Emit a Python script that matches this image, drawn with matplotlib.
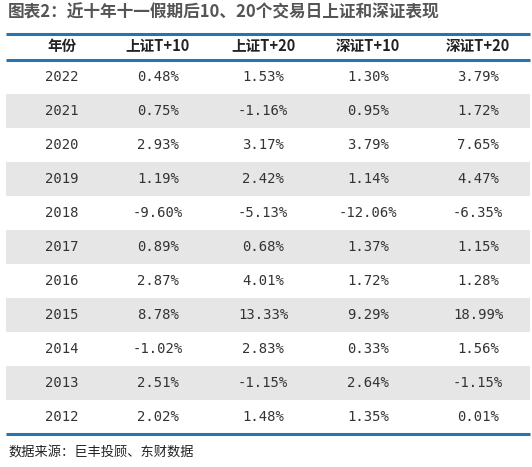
import matplotlib.pyplot as plt
from matplotlib.patches import Rectangle

plt.rcParams['font.family'] = ['Noto Sans CJK SC', 'DejaVu Sans']

title = "图表2：近十年十一假期后10、20个交易日上证和深证表现"
source = "数据来源：巨丰投顾、东财数据"
headers = ["年份", "上证T+10", "上证T+20", "深证T+10", "深证T+20"]
years = ["2022", "2021", "2020", "2019", "2018", "2017", "2016", "2015", "2014", "2013", "2012"]
sh_t10 = ["0.48%", "0.75%", "2.93%", "1.19%", "-9.60%", "0.89%", "2.87%", "8.78%", "-1.02%", "2.51%", "2.02%"]
sh_t20 = ["1.53%", "-1.16%", "3.17%", "2.42%", "-5.13%", "0.68%", "4.01%", "13.33%", "2.83%", "-1.15%", "1.48%"]
sz_t10 = ["1.30%", "0.95%", "3.79%", "1.14%", "-12.06%", "1.37%", "1.72%", "9.29%", "0.33%", "2.64%", "1.35%"]
sz_t20 = ["3.79%", "1.72%", "7.65%", "4.47%", "-6.35%", "1.15%", "1.28%", "18.99%", "1.56%", "-1.15%", "0.01%"]

W, H = 532, 467
fig = plt.figure(figsize=(W / 100, H / 100), dpi=100)
ax = fig.add_axes([0, 0, 1, 1])
ax.set_xlim(0, W)
ax.set_ylim(H, 0)
ax.axis("off")

left, right = 6, 530
col_x = [62, 158, 263, 368, 478]
head_top, head_bot = 34, 60
row_h = 34.0
blue = "#2673b0"

ax.text(8, 12, title, fontsize=12, fontweight="bold", color="#555555", va="center", ha="left")

for x, h in zip(col_x, headers):
    ax.text(x, 46, h, fontsize=10.5, fontweight="bold", color="#222222", va="center", ha="center")

columns = [years, sh_t10, sh_t20, sz_t10, sz_t20]
for i in range(len(years)):
    top = head_bot + i * row_h
    if i % 2 == 1:
        ax.add_patch(Rectangle((left, top), right - left, row_h, color="#e6e6e6", lw=0))
    for x, col in zip(col_x, columns):
        ax.text(x, top + row_h / 2, col[i], fontsize=10, color="#333333",
                family=["DejaVu Sans Mono"], va="center", ha="center")

bottom = head_bot + len(years) * row_h
for y in (head_top, head_bot, bottom):
    ax.plot([left, right], [y, y], color=blue, lw=2.2, solid_capstyle="butt")

ax.text(8, 452, source, fontsize=9.5, color="#222222", va="center", ha="left")

fig.savefig("out.png", dpi=100)
